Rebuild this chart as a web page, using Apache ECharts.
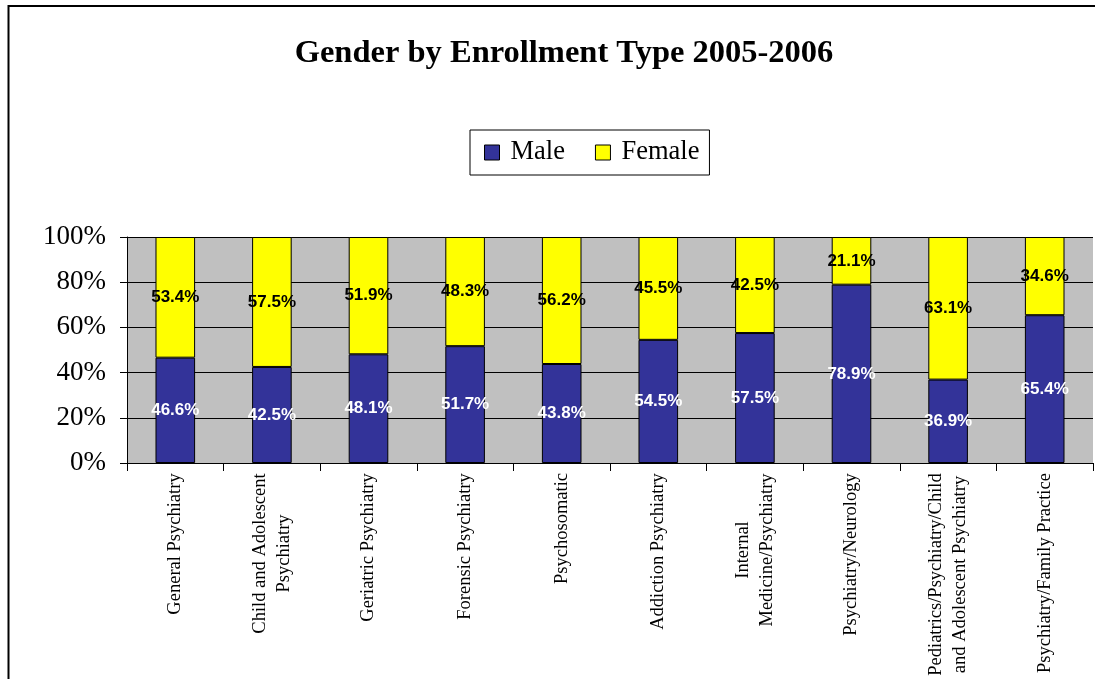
<!DOCTYPE html>
<html>
<head>
<meta charset="utf-8">
<script src="https://cdn.jsdelivr.net/npm/echarts@6/dist/echarts.min.js"></script>
<style>
html,body{margin:0;padding:0;background:#fff;}
#chart{width:1095px;height:679px;}
</style>
</head>
<body>
<div id="chart"></div>
<script>
const categories = [
  "General Psychiatry",
  "Child and Adolescent\nPsychiatry",
  "Geriatric Psychiatry",
  "Forensic Psychiatry",
  "Psychosomatic",
  "Addiction Psychiatry",
  "Internal\nMedicine/Psychiatry",
  "Psychiatry/Neurology",
  "Pediatrics/Psychiatry/Child\nand Adolescent Psychiatry",
  "Psychiatry/Family Practice"
];
const maleValues = [46.6, 42.5, 48.1, 51.7, 43.8, 54.5, 57.5, 78.9, 36.9, 65.4];
const femaleValues = [53.4, 57.5, 51.9, 48.3, 56.2, 45.5, 42.5, 21.1, 63.1, 34.6];
const yTicks = [0, 20, 40, 60, 80, 100];

const xFont = 18.5;
const xFamily = '"Liberation Serif", "Times New Roman", serif';
const cv = document.createElement('canvas').getContext('2d');
cv.font = xFont + 'px ' + xFamily;
const rich = {};
categories.forEach((c, i) => {
  const lines = c.split('\n');
  const w = Math.ceil(Math.max(...lines.map(l => cv.measureText(l).width)));
  rich['w' + i] = {width: w, align: 'center', fontSize: xFont, fontFamily: xFamily, color: '#000', lineHeight: 24};
});

const chart = echarts.init(document.getElementById('chart'));
chart.setOption({
  animation: false,
  backgroundColor: '#fff',
  title: {
    text: 'Gender by Enrollment Type 2005-2006',
    left: 559, textAlign: 'center', top: 32,
    textStyle: {fontFamily: xFamily, fontWeight: 'bold', fontSize: 32.5, color: '#000'}
  },
  graphic: [{
    type: 'rect', shape: {x: 8.5, y: 6, width: 1200, height: 800},
    style: {fill: 'none', stroke: '#000', lineWidth: 2}, silent: true, z: 100
  }],
  legend: {
    left: 470, top: 130,
    data: ['Male', 'Female'],
    itemWidth: 15, itemHeight: 15, itemGap: 30,
    padding: [9, 10, 9, 14],
    borderColor: '#000', borderWidth: 1,
    icon: 'rect',
    textStyle: {fontFamily: xFamily, fontSize: 26.5, color: '#000', padding: [0, 0, 0, 6]},
    itemStyle: {borderColor: '#000', borderWidth: 1}
  },
  grid: {left: 127, right: 2, top: 237, bottom: 215, show: true, backgroundColor: '#C0C0C0', borderWidth: 0},
  xAxis: {
    type: 'category', data: categories,
    axisLine: {lineStyle: {color: '#000', width: 1}},
    axisTick: {show: true, length: 8, lineStyle: {color: '#000'}},
    axisLabel: {
      interval: 0, rotate: 90, margin: 10,
      fontFamily: xFamily, fontSize: xFont, color: '#000', lineHeight: 24,
      formatter: function (v) {
        const idx = categories.indexOf(v);
        return v.split('\n').map(l => '{w' + idx + '|' + l + '}').join('\n');
      },
      rich: rich
    }
  },
  yAxis: {
    type: 'value', min: 0, max: 100, interval: 20,
    axisLine: {show: true, lineStyle: {color: '#000'}},
    axisTick: {show: true, length: 7, lineStyle: {color: '#000'}},
    splitLine: {show: true, lineStyle: {color: '#000', width: 1}},
    axisLabel: {
      margin: 21, fontFamily: xFamily, fontSize: 27, color: '#000',
      formatter: v => yTicks.includes(v) ? v + '%' : ''
    }
  },
  series: [
    {
      name: 'Male', type: 'bar', stack: 'g', data: maleValues, barWidth: '41%',
      itemStyle: {color: '#333399', borderColor: '#000', borderWidth: 1},
      label: {show: true, position: 'inside', formatter: p => p.value.toFixed(1) + '%',
        color: '#fff', fontFamily: '"Liberation Sans", Arial, sans-serif', fontWeight: 'bold', fontSize: 17, textBorderWidth: 0}
    },
    {
      name: 'Female', type: 'bar', stack: 'g', data: femaleValues, barWidth: '41%',
      itemStyle: {color: '#FFFF00', borderColor: '#000', borderWidth: 1},
      label: {show: true, position: 'inside', formatter: p => p.value.toFixed(1) + '%',
        color: '#000', fontFamily: '"Liberation Sans", Arial, sans-serif', fontWeight: 'bold', fontSize: 17, textBorderWidth: 0}
    }
  ]
});
</script>
</body>
</html>
